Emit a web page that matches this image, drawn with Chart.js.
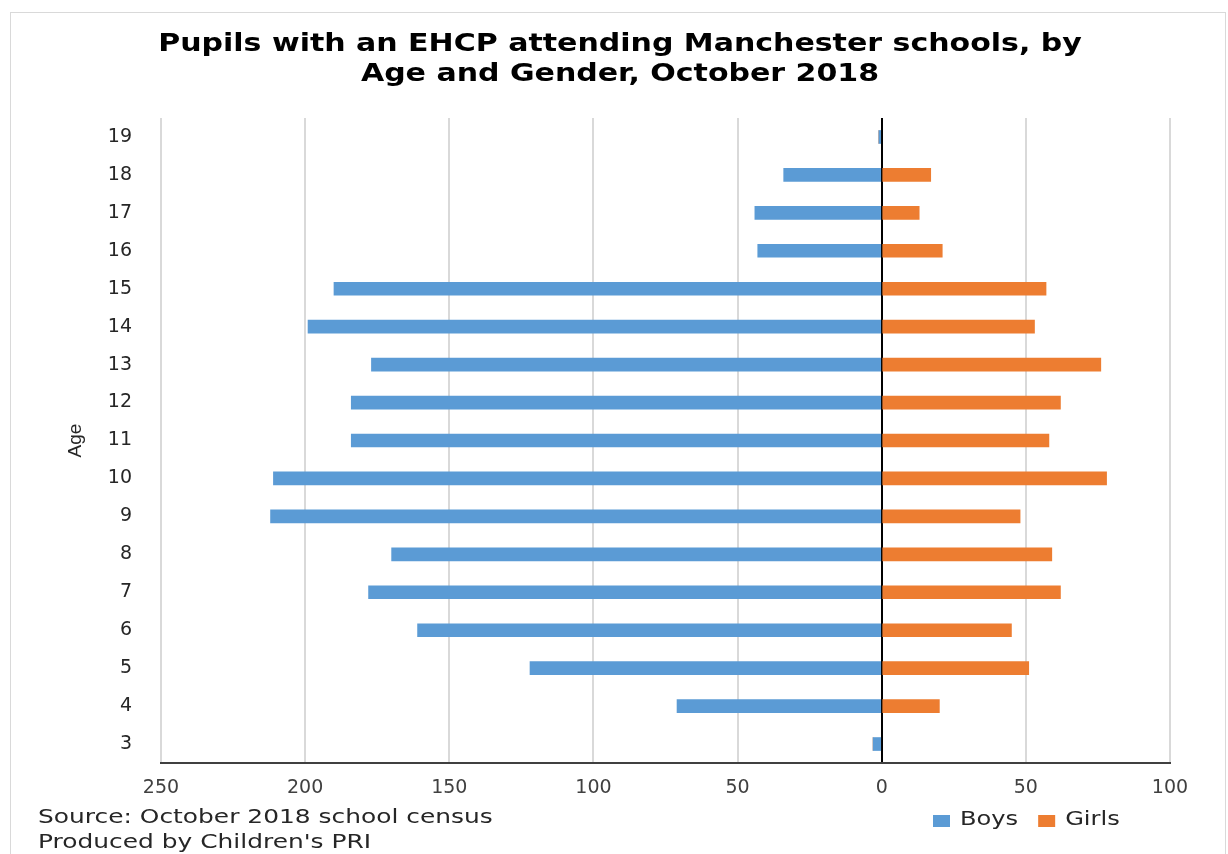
<!DOCTYPE html>
<html>
<head>
<meta charset="utf-8">
<script src="https://cdn.jsdelivr.net/npm/chart.js@4"></script>
<style>
  html, body { margin: 0; padding: 0; background: #ffffff; }
  #wrap { width: 1228px; height: 854px; position: relative; }
</style>
</head>
<body>
<div id="wrap"><canvas id="c" width="1228" height="854"></canvas></div>
<script>
// Data
const ages = ['3','4','5','6','7','8','9','10','11','12','13','14','15','16','17','18','19'];
const boys = [3, 71, 122, 161, 178, 170, 212, 211, 184, 184, 177, 199, 190, 43, 44, 34, 1];
const girls = [0, 20, 51, 45, 62, 59, 48, 78, 58, 62, 76, 53, 57, 21, 13, 17, 0];
const titleLines = ['Pupils with an EHCP attending Manchester schools, by', 'Age and Gender, October 2018'];
const footLines = ['Source: October 2018 school census', "Produced by Children's PRI"];
const xMin = -250, xMax = 100, xStep = 50;

const BLUE = '#5B9BD5', ORANGE = '#ED7D31';

// draw text horizontally stretched (the reference text is wide)
function stretchedText(ctx, text, x, y, sx, align) {
  ctx.save();
  ctx.translate(x, y);
  ctx.scale(sx, 1);
  ctx.textAlign = align;
  ctx.fillText(text, 0, 0);
  ctx.restore();
  return ctx.measureText(text).width * sx;
}

const decor = {
  id: 'decor',
  beforeDraw(chart) {
    const ctx = chart.ctx;
    ctx.save();
    ctx.fillStyle = '#ffffff';
    ctx.fillRect(0, 0, chart.width, chart.height);
    ctx.strokeStyle = '#d9d9d9';
    ctx.lineWidth = 1;
    ctx.strokeRect(10.5, 12.5, 1215, 860);
    ctx.restore();
  },
  afterDraw(chart) {
    const ctx = chart.ctx;
    ctx.save();
    ctx.textBaseline = 'middle';
    // title
    ctx.fillStyle = '#000000';
    ctx.font = 'bold 24px "DejaVu Sans"';
    stretchedText(ctx, titleLines[0], 620, 45, 1.25, 'center');
    stretchedText(ctx, titleLines[1], 620, 75, 1.25, 'center');
    // footer
    ctx.font = '19px "DejaVu Sans"';
    ctx.fillStyle = '#262626';
    stretchedText(ctx, footLines[0], 38, 818, 1.31, 'left');
    stretchedText(ctx, footLines[1], 38, 843, 1.31, 'left');
    // legend
    const items = chart.data.datasets;
    let x = 933;
    items.forEach((ds) => {
      ctx.fillStyle = ds.backgroundColor;
      ctx.fillRect(x, 815, 17, 12);
      ctx.fillStyle = '#262626';
      const w = stretchedText(ctx, ds.label, x + 27, 820, 1.27, 'left');
      x += 27 + w + 20;
    });
    ctx.restore();
  }
};

new Chart(document.getElementById('c'), {
  type: 'bar',
  data: {
    labels: ages,
    datasets: [
      { label: 'Boys', data: boys.map(v => -v), backgroundColor: BLUE, barThickness: 13 },
      { label: 'Girls', data: girls, backgroundColor: ORANGE, barThickness: 13 }
    ]
  },
  options: {
    indexAxis: 'y',
    responsive: false,
    animation: false,
    devicePixelRatio: 1,
    layout: { padding: { top: 118, left: 10, right: 58, bottom: 51 } },
    plugins: {
      legend: { display: false },
      title: { display: false },
      tooltip: { enabled: false }
    },
    scales: {
      x: {
        stacked: true,
        min: xMin, max: xMax,
        afterFit(s) { s.height = 40; },
        ticks: {
          stepSize: xStep,
          padding: 14,
          color: '#404040',
          font: { family: 'DejaVu Sans', size: 19 },
          callback: v => Math.abs(v)
        },
        grid: {
          drawTicks: false,
          color: ctx => (ctx.tick && ctx.tick.value === 0) ? '#000000' : '#d9d9d9',
          lineWidth: 2
        },
        border: { display: true, color: '#404040', width: 2 }
      },
      y: {
        stacked: true,
        reverse: true,
        afterFit(s) { s.width = 151; },
        title: {
          display: true, text: 'Age', color: '#262626',
          font: { family: 'Liberation Sans Narrow, Liberation Sans', size: 19 },
          padding: { top: 54, bottom: 0 }
        },
        ticks: {
          padding: 29,
          color: '#262626',
          font: { family: 'DejaVu Sans', size: 19 }
        },
        grid: { display: false, drawTicks: false },
        border: { display: false }
      }
    }
  },
  plugins: [decor]
});
</script>
</body>
</html>
